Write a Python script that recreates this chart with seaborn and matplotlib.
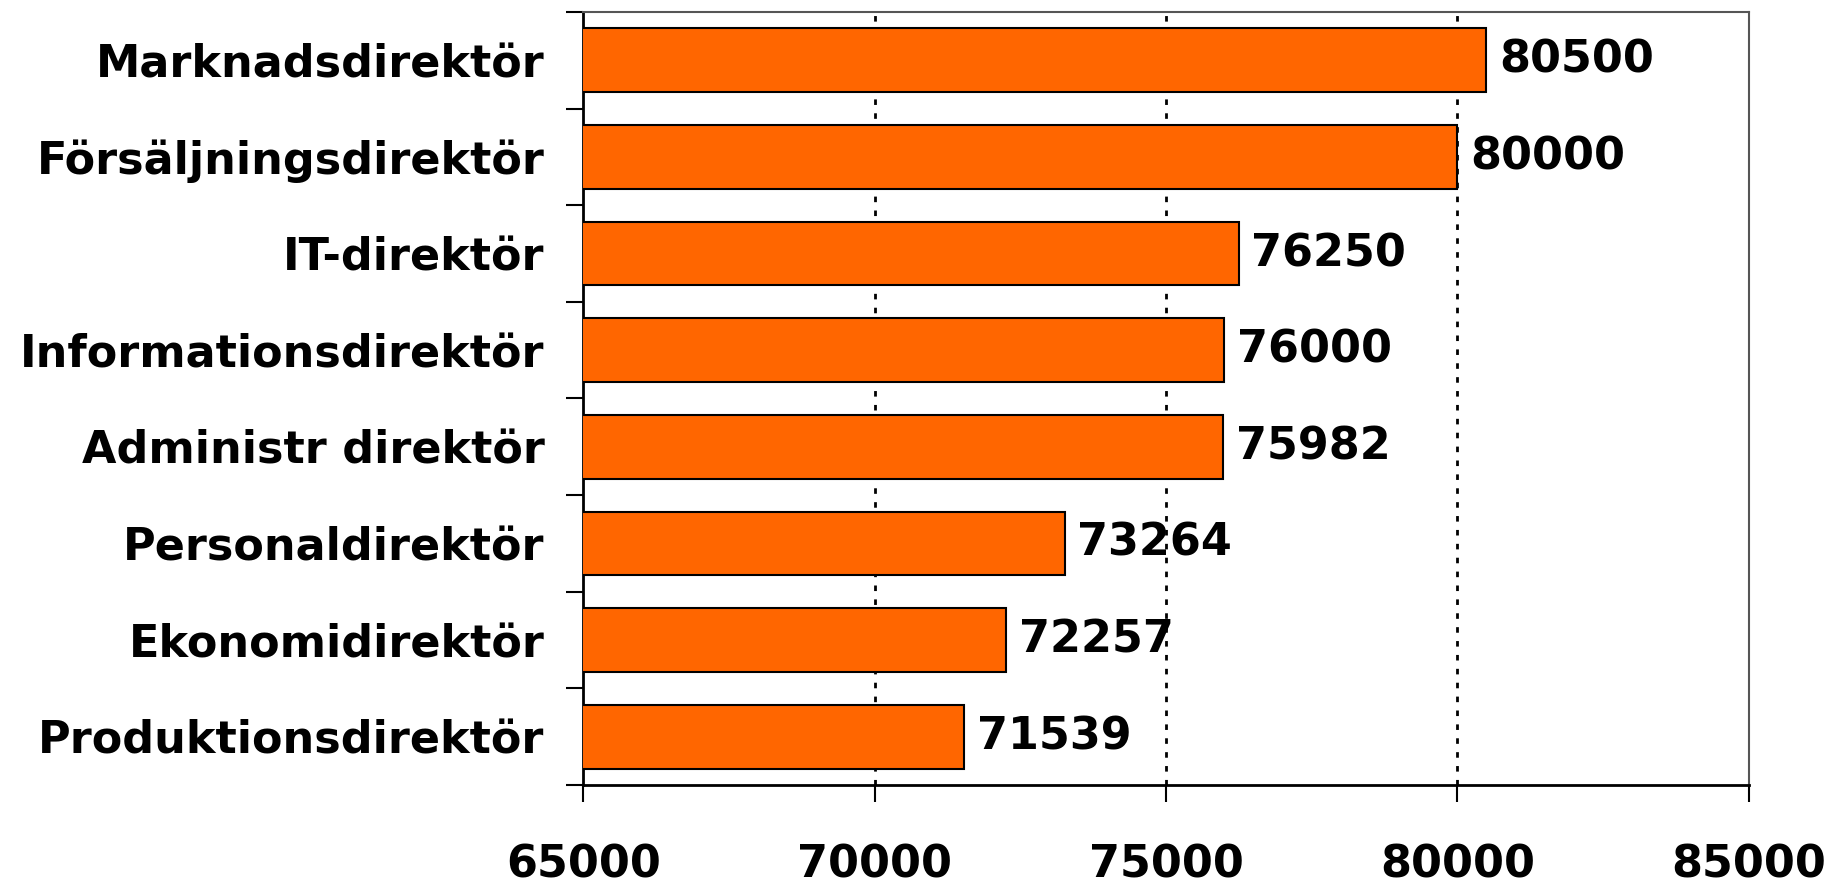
import matplotlib
matplotlib.use("Agg")
import matplotlib.pyplot as plt
import seaborn as sns
import pandas as pd
import numpy as np

# Data
roles = [
    "Marknadsdirektör",
    "Försäljningsdirektör",
    "IT-direktör",
    "Informationsdirektör",
    "Administr direktör",
    "Personaldirektör",
    "Ekonomidirektör",
    "Produktionsdirektör",
]
salaries = [80500, 80000, 76250, 76000, 75982, 73264, 72257, 71539]
x_ticks = [65000, 70000, 75000, 80000, 85000]

df = pd.DataFrame({"role": roles, "salary": salaries})

sns.set_style("white")
plt.rcParams["font.family"] = ["DejaVu Sans"]
plt.rcParams["font.weight"] = "bold"
plt.rcParams["text.color"] = "black"
plt.rcParams["xtick.color"] = "black"
plt.rcParams["ytick.color"] = "black"

fig = plt.figure(figsize=(18.29, 8.86), dpi=100)
ax = fig.add_axes([0.319, 0.114, 0.637, 0.8725])

sns.barplot(
    data=df, x="salary", y="role", order=roles, orient="h",
    color="#FF6600", saturation=1, width=0.66,
    edgecolor="black", linewidth=1.5, ax=ax, zorder=3,
)

# Value labels
ax.bar_label(ax.containers[0], labels=[str(v) for v in salaries],
             padding=9, fontsize=32, fontweight="bold", color="black")

ax.set_xlim(65000, 85000)
ax.set_ylim(7.5, -0.5)
ax.set_xticks(x_ticks)
ax.set_xticklabels([str(t) for t in x_ticks], fontsize=32, fontweight="bold")
ax.set_yticks(range(len(roles)))
ax.set_yticklabels(roles, fontsize=32, fontweight="bold")
ax.set_yticks(np.arange(-0.5, len(roles), 1), minor=True)
ax.tick_params(axis="y", which="major", length=0, pad=28, labelcolor="black")
ax.tick_params(axis="y", which="minor", length=12, width=1.5, color="black", direction="out", left=True)
ax.tick_params(axis="x", which="major", length=12, width=1.5, color="black", direction="out", pad=30,
               bottom=True, labelcolor="black")
ax.set_xlabel("")
ax.set_ylabel("")

# Dotted vertical grid
for t in x_ticks[1:]:
    ax.axvline(t, color="black", linestyle=(0, (2, 3)), linewidth=2, zorder=1)

for side in ["left", "bottom"]:
    ax.spines[side].set_color("black")
    ax.spines[side].set_linewidth(2)
for side in ["top", "right"]:
    ax.spines[side].set_color("#555555")
    ax.spines[side].set_linewidth(1.5)

fig.savefig("out.png", dpi=100, facecolor="white")
